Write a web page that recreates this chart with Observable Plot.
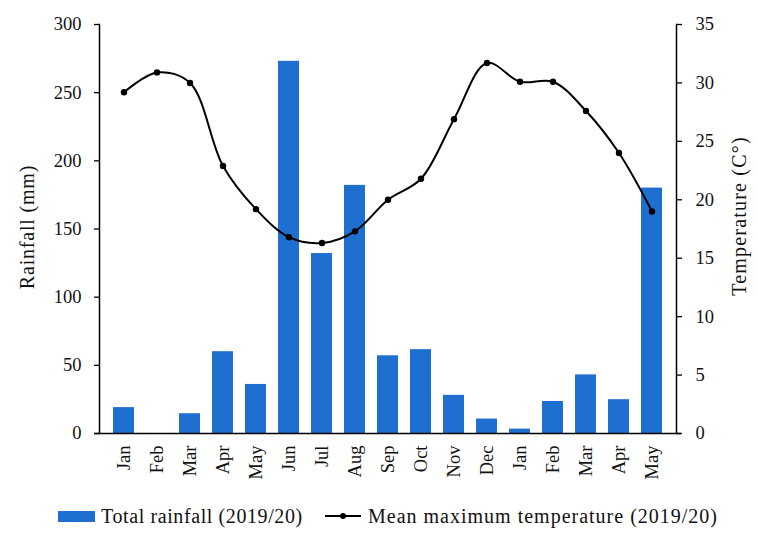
<!DOCTYPE html>
<html>
<head>
<meta charset="utf-8">
<script src="https://cdn.jsdelivr.net/npm/d3@7"></script>
<script src="https://cdn.jsdelivr.net/npm/@observablehq/plot@0.6"></script>
<style>
  html, body { margin: 0; padding: 0; background: #fff; }
  #chart { width: 758px; height: 542px; position: relative; font-family: "Liberation Serif", serif; }
  #legend { position: absolute; left: 0; top: 503px; width: 758px; height: 26px; font-size: 20px; color: #111; }
  #legend .item { position: absolute; top: 0; display: flex; align-items: center; height: 26px; white-space: nowrap; }
</style>
</head>
<body>
<div id="chart"></div>
<script>
const months = ["Jan","Feb","Mar","Apr","May","Jun","Jul","Aug","Sep","Oct","Nov","Dec","Jan","Feb","Mar","Apr","May"];
const rainfall = [19, 0, 14.5, 60, 36, 273, 132, 182, 57, 61.5, 28, 10.6, 3.2, 23.5, 43, 24.8, 180];
const temperature = [29.2, 30.9, 30.0, 22.9, 19.2, 16.8, 16.3, 17.3, 20.0, 21.8, 26.9, 31.7, 30.1, 30.1, 27.6, 24.0, 19.0];
const rainTicks = [0, 50, 100, 150, 200, 250, 300];
const tempTicks = [0, 5, 10, 15, 20, 25, 30, 35];

const RAIN_MAX = 300, TEMP_MAX = 35;
const toRain = t => t * RAIN_MAX / TEMP_MAX;

const keys = months.map((m, i) => i);
const data = keys.map(i => ({key: i, month: months[i], rain: rainfall[i], temp: temperature[i]}));

const blue = "#1f6fd1";

const plot = Plot.plot({
  width: 758,
  height: 490,
  marginLeft: 99,
  marginRight: 82,
  marginTop: 24,
  marginBottom: 57,
  style: {fontFamily: "Liberation Serif, serif", fontSize: "18.5px", color: "#111", background: "transparent"},
  x: {domain: keys, paddingInner: 0.35, paddingOuter: 0.18, align: 0.5},
  y: {domain: [0, RAIN_MAX]},
  marks: [
    Plot.barY(data, {x: "key", y: "rain", fill: blue}),
    Plot.line(data, {x: "key", y: d => toRain(d.temp), stroke: "#000", strokeWidth: 2, curve: "catmull-rom"}),
    Plot.dot(data, {x: "key", y: d => toRain(d.temp), r: 3.2, fill: "#000"}),
    Plot.axisY(rainTicks, {anchor: "left", tickSize: 5, tickPadding: 13, stroke: "#000", strokeWidth: 1.3, fontSize: 18.5, label: null}),
    Plot.axisY(tempTicks.map(toRain), {anchor: "right", tickSize: 5, tickPadding: 14, stroke: "#000", strokeWidth: 1.3, fontSize: 18.5,
      tickFormat: v => String(Math.round(v * TEMP_MAX / RAIN_MAX)), label: null}),
    Plot.axisX({tickSize: 0, tickRotate: -90, tickPadding: 12, fontSize: 18.5, tickFormat: i => months[i], label: null}),
    Plot.text(["Rainfall (mm)"], {frameAnchor: "left", dx: -72, dy: -2, rotate: -90, fontSize: 20, textAnchor: "middle", fill: "#111"}),
    Plot.text(["Temperature (C°)"], {frameAnchor: "right", dx: 63, dy: -13, rotate: -90, fontSize: 20, textAnchor: "middle", fill: "#111"}),
    Plot.frame({anchor: "left", stroke: "#000", strokeWidth: 1.5}),
    Plot.frame({anchor: "right", stroke: "#000", strokeWidth: 1.5}),
    Plot.ruleY([0], {stroke: "#000", strokeWidth: 1.5, insetLeft: -5, insetRight: -5})
  ]
});
document.getElementById("chart").appendChild(plot);

d3.select(plot).selectAll("text").each(function() {
  const t = this.textContent;
  if (t === "Rainfall (mm)") this.setAttribute("letter-spacing", "0.8");
  if (t === "Temperature (C°)") this.setAttribute("letter-spacing", "1.2");
});

const legend = document.createElement("div");
legend.id = "legend";
legend.innerHTML = `
  <div class="item" style="left:58px;letter-spacing:0.6px"><span style="display:inline-block;width:37px;height:11px;background:${blue};margin-right:6px"></span>Total rainfall (2019/20)</div>
  <div class="item" style="left:325px;letter-spacing:1px"><svg width="38" height="10" style="margin-right:5px"><line x1="0" y1="5" x2="36" y2="5" stroke="#000" stroke-width="2"/><circle cx="18" cy="5" r="3" fill="#000"/></svg>Mean maximum temperature (2019/20)</div>`;
document.getElementById("chart").appendChild(legend);
</script>
</body>
</html>
